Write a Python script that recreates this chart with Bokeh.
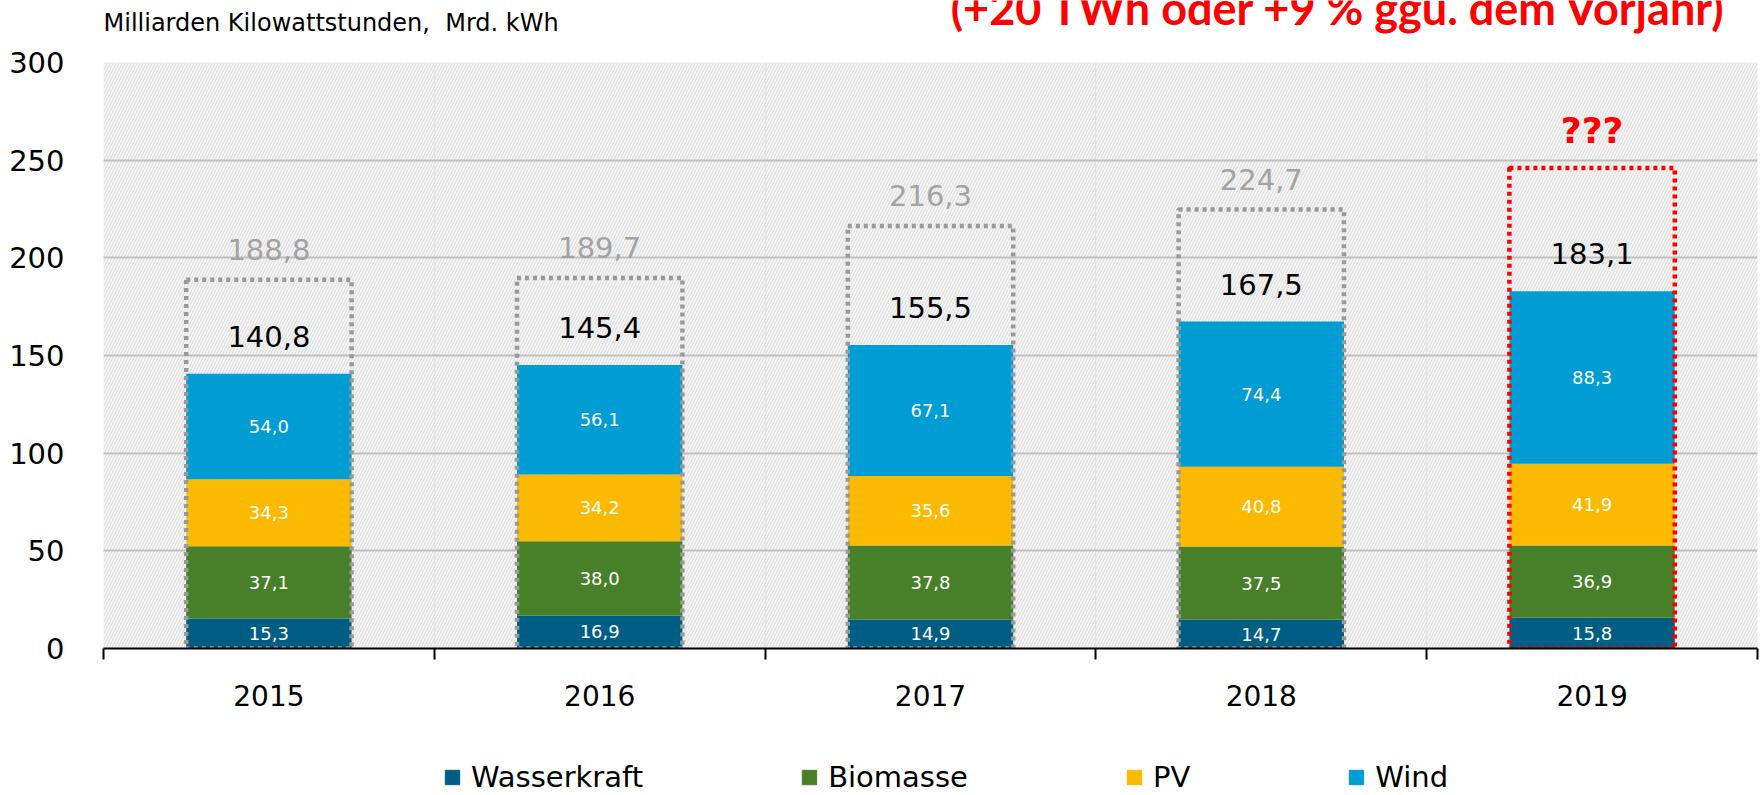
from bokeh.plotting import figure
from bokeh.layouts import column
from bokeh.models import (ColumnDataSource, Range1d, LinearAxis,
                          FixedTicker, LabelSet, Label, Legend, LegendItem, BoxAnnotation,
                          CustomJSTickFormatter)
from bokeh.core.properties import value
from bokeh.embed import file_html
from bokeh.resources import INLINE

# ---------------- data ----------------
years = ["2015", "2016", "2017", "2018", "2019"]
wasserkraft = [15.3, 16.9, 14.9, 14.7, 15.8]
biomasse = [37.1, 38.0, 37.8, 37.5, 36.9]
pv = [34.3, 34.2, 35.6, 40.8, 41.9]
wind = [54.0, 56.1, 67.1, 74.4, 88.3]
summe = [140.8, 145.4, 155.5, 167.5, 183.1]
gesamt_years = ["2015", "2016", "2017", "2018"]
gesamt_ee = [188.8, 189.7, 216.3, 224.7]
prognose_year = ["2019"]
prognose_2019 = [246.0]
y_ticks = [0, 50, 100, 150, 200, 250, 300]
series_names = ["Wasserkraft", "Biomasse", "PV", "Wind"]
colors = ["#005E84", "#488029", "#FBBA00", "#009CD4"]
subtitle = "Milliarden Kilowattstunden,\u00a0 Mrd. kWh"
headline = "(+20 TWh oder +9 % ggü. dem Vorjahr)"

def fmt(v):
    return f"{v:.1f}".replace(".", ",")

def xpos(yr):
    # centre of the category slot
    return years.index(yr) + 0.5

FONT = "DejaVu Sans"
W = 1761
TOP_H, MAIN_H, BOT_H = 44, 681, 70
FL, FR = 103, 1757   # plot frame left / right on the canvas (all strips share it)

# ---------------- top strip (subtitle + headline) ----------------
top = figure(width=W, height=TOP_H, x_range=Range1d(FL, FR), y_range=Range1d(0, TOP_H),
             output_backend="svg", toolbar_location=None, x_axis_location=None,
             y_axis_location=None, min_border=0, title=None,
             min_border_left=FL, min_border_right=W - FR)
top.outline_line_color = None
top.xgrid.visible = False
top.ygrid.visible = False
top.add_layout(Label(x=103, y=21.7, text=subtitle, text_font=FONT,
                     text_font_size="24px", text_color="black", text_align="left",
                     text_baseline="middle"))
top.add_layout(Label(x=1727, y=36.5, text=headline, text_font="Lato",
                     text_font_style="bold", text_font_size="45px", text_color="#FF0000",
                     text_align="right", text_baseline="middle"))

# ---------------- main chart ----------------
p = figure(x_range=Range1d(0, len(years)), y_range=Range1d(0, 300), width=W, height=MAIN_H,
           output_backend="svg", toolbar_location=None, x_axis_location=None, title=None,
           min_border_left=FL, min_border_right=W - FR, min_border_top=18, min_border_bottom=77)
p.outline_line_color = None
p.background_fill_color = "#F5F5F5"
p.border_fill_color = "white"

p.add_layout(BoxAnnotation(level="image", fill_color="#F5F5F5", line_color=None,
                           hatch_pattern="/", hatch_color="#E0E0E0", hatch_scale=6,
                           hatch_weight=1.2))

yax = p.yaxis[0]
yax.ticker = FixedTicker(ticks=y_ticks)
yax.axis_line_color = None
yax.major_tick_line_color = None
yax.minor_tick_line_color = None
yax.major_label_text_font = FONT
yax.major_label_text_font_size = "29px"
yax.major_label_text_color = "black"
yax.major_label_standoff = 33
p.ygrid.grid_line_color = "#BFBFBF"
p.ygrid.grid_line_width = 2

ax1 = LinearAxis(ticker=FixedTicker(ticks=list(range(len(years) + 1))),
                 formatter=CustomJSTickFormatter(code="return ''"),
                 major_tick_out=11, major_tick_in=0, major_label_standoff=0,
                 major_label_text_font_size="1px", axis_line_color="black",
                 axis_line_width=2, major_tick_line_width=2, minor_tick_line_color=None)
p.add_layout(ax1, "below")
ax2 = LinearAxis(ticker=FixedTicker(ticks=[xpos(y) for y in years]),
                 formatter=CustomJSTickFormatter(args=dict(labels=years),
                                                 code="return labels[Math.floor(tick)]"),
                 axis_line_color=None, major_tick_line_color=None, minor_tick_line_color=None,
                 major_label_text_font=FONT, major_label_text_font_size="28px",
                 major_label_text_color="black", major_label_standoff=19)
p.add_layout(ax2, "below")

src = ColumnDataSource(dict(x=[xpos(y) for y in years], Wasserkraft=wasserkraft,
                            Biomasse=biomasse, PV=pv, Wind=wind))
rs = p.vbar_stack(series_names, x="x", width=0.5, source=src, color=colors, line_width=0)

xs, ys, ts = [], [], []
for i, yr in enumerate(years):
    base = 0.0
    for vals in (wasserkraft, biomasse, pv, wind):
        v = vals[i]
        xs.append(xpos(yr)); ys.append(base + v / 2); ts.append(fmt(v))
        base += v
seg_src = ColumnDataSource(dict(x=xs, y=ys, t=ts))
p.add_layout(LabelSet(x="x", y="y", text="t", source=seg_src, text_align="center",
                      text_baseline="middle", text_color="white", text_font=value(FONT),
                      text_font_size="18px"))

g_src = ColumnDataSource(dict(x=[xpos(y) for y in gesamt_years], top=gesamt_ee,
                              t=[fmt(v) for v in gesamt_ee]))
p.vbar(x="x", top="top", width=0.5, source=g_src, fill_color=None, line_color="#999999",
       line_width=4.5, line_dash="4 4")
r_src = ColumnDataSource(dict(x=[xpos(y) for y in prognose_year], top=prognose_2019, t=["???"]))
p.vbar(x="x", top="top", width=0.5, source=r_src, fill_color=None, line_color="#FF0000",
       line_width=4.5, line_dash="4 4")

p.add_layout(LabelSet(x="x", y="top", text="t", source=g_src, y_offset=30, text_align="center",
                      text_baseline="middle", text_color="#A3A3A3", text_font=value(FONT),
                      text_font_size="29px"))
p.add_layout(LabelSet(x="x", y="top", text="t", source=r_src, y_offset=37, text_align="center",
                      text_baseline="middle", text_color="#FF0000", text_font=value(FONT),
                      text_font_style="bold", text_font_size="36px"))
s_src = ColumnDataSource(dict(x=[xpos(y) for y in years], top=summe, t=[fmt(v) for v in summe]))
p.add_layout(LabelSet(x="x", y="top", text="t", source=s_src, y_offset=37, text_align="center",
                      text_baseline="middle", text_color="black", text_font=value(FONT),
                      text_font_size="29px"))

# ---------------- legend strip ----------------
bot = figure(width=W, height=BOT_H, x_range=Range1d(FL, FR), y_range=Range1d(0, BOT_H),
             output_backend="svg", toolbar_location=None, x_axis_location=None,
             y_axis_location=None, min_border=0, title=None,
             min_border_left=FL, min_border_right=W - FR)
bot.outline_line_color = None
bot.xgrid.visible = False
bot.ygrid.visible = False
leg_rs = [bot.vbar(x=[FL], top=[0], width=0, color=c) for c in colors]
legend = Legend(items=[LegendItem(label=n, renderers=[r]) for n, r in zip(series_names, leg_rs)],
                orientation="horizontal", location=(443 - FL, 1), spacing=157,
                glyph_width=18, glyph_height=18, label_standoff=10, padding=0, margin=0,
                border_line_color=None, background_fill_alpha=0,
                label_text_font=FONT, label_text_font_size="29px", label_text_color="black")
bot.add_layout(legend, "center")

layout = column(top, p, bot, spacing=0)
open("out.html", "w").write(file_html(layout, INLINE))
